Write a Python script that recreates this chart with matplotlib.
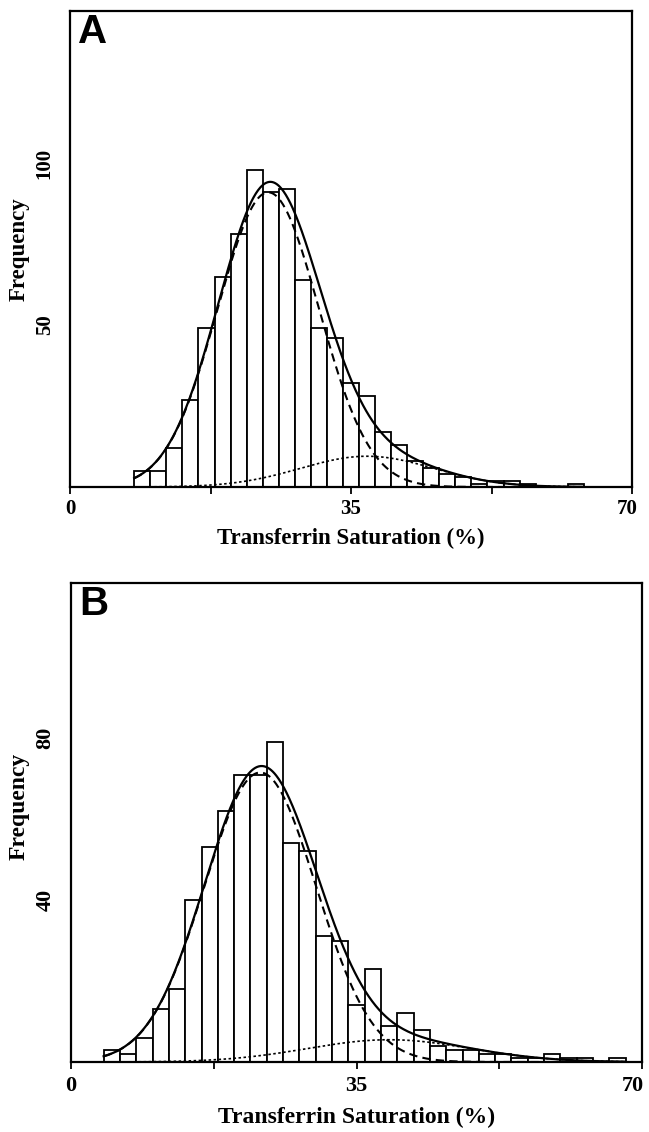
import numpy as np
import matplotlib
matplotlib.use("Agg")
import matplotlib.pyplot as plt
from matplotlib.transforms import ScaledTranslation

# ---------------- data ----------------
# Panel A: histogram (bins of width 2, left edges) and fitted mixture components
a_bin_left = [8, 10, 12, 14, 16, 18, 20, 22, 24, 26, 28, 30, 32, 34, 36, 38, 40,
              42, 44, 46, 48, 50, 52, 54, 56, 58, 60, 62]
a_counts = [5, 5, 12, 27, 49, 65, 78, 98, 91, 92, 64, 49, 46, 32, 28, 17, 13,
            8, 6, 4, 3, 1, 2, 2, 1, 0, 0, 1]
# component parameters: (amplitude, mean, sd)
a_comp1 = (91.0, 24.7, 6.3)
a_comp2 = (9.5, 37.0, 8.3)
a_curve_range = (8, 64)

# Panel B
b_bin_left = [4, 6, 8, 10, 12, 14, 16, 18, 20, 22, 24, 26, 28, 30, 32, 34, 36,
              38, 40, 42, 44, 46, 48, 50, 52, 54, 56, 58, 60, 62, 64, 66]
b_counts = [3, 2, 6, 13, 18, 40, 53, 62, 71, 71, 79, 54, 52, 31, 30, 14, 23,
            9, 12, 8, 4, 3, 3, 2, 2, 1, 1, 2, 1, 1, 0, 1]
b_comp1 = (71.5, 23.2, 6.85)
b_comp2 = (5.5, 39.0, 10.0)
b_curve_range = (4, 68)

x_major = [0, 35, 70]
x_minor = [17.5, 52.5]
a_yticks = [50, 100]
b_yticks = [40, 80]

# ---------------- figure ----------------
W, H = 649, 1132
fig = plt.figure(figsize=(W / 100, H / 100), dpi=100)

serif = ["Liberation Serif", "DejaVu Serif"]
sans = ["Liberation Sans", "DejaVu Sans"]


def gauss(x, p):
    amp, mu, sd = p
    return amp * np.exp(-0.5 * ((x - mu) / sd) ** 2)


def panel(rect, left, counts, c1, c2, crange, yticks, ylim, letter, tfs, lfs,
          ylab_x, ylab_y, xpad, xlabpad, last_shift):
    ax = fig.add_axes(rect)
    ax.bar(left, counts, width=2, align="edge", facecolor="white",
           edgecolor="black", linewidth=1.3, zorder=2)
    xs = np.linspace(crange[0], crange[1], 600)
    y1 = gauss(xs, c1)
    y2 = gauss(xs, c2)
    ax.plot(xs, y1 + y2, color="black", lw=1.6, zorder=4)
    ax.plot(xs, y1, color="black", lw=1.5, ls=(0, (4, 2.5)), zorder=4)
    ax.plot(xs, y2, color="black", lw=1.2, ls=(0, (1.5, 1.5)), zorder=4)
    ax.set_xlim(0, 70)
    ax.set_ylim(0, ylim)
    for s in ax.spines.values():
        s.set_linewidth(1.6)
    ax.set_xticks(x_major)
    ax.set_xticks(x_minor, minor=True)
    ax.tick_params(axis="x", which="both", direction="out", length=5, width=1.3,
                   pad=xpad)
    labels = ax.set_xticklabels([str(v) for v in x_major], fontfamily=serif,
                                fontweight="bold", fontsize=tfs)
    lab = labels[-1]
    lab.set_transform(lab.get_transform() +
                      ScaledTranslation(last_shift / 100, 0,
                                        fig.dpi_scale_trans))
    ax.set_yticks(yticks)
    ax.set_yticklabels([str(v) for v in yticks], fontfamily=serif,
                       fontweight="bold", fontsize=tfs, rotation=90,
                       va="center")
    ax.tick_params(axis="y", length=0, pad=11)
    ax.set_xlabel("Transferrin Saturation (%)", fontfamily=serif,
                  fontweight="bold", fontsize=lfs, labelpad=xlabpad)
    ax.set_ylabel("Frequency", fontfamily=serif, fontweight="bold",
                  fontsize=lfs)
    ax.yaxis.set_label_coords(ylab_x, ylab_y)
    ax.text(0.015, 0.995, letter, transform=ax.transAxes, ha="left", va="top",
            fontfamily=sans, fontweight="bold", fontsize=29)
    return ax


# panel A: left 70, right 632, top 11, bottom 487 (pixels)
panel([70 / W, 1 - 487 / H, (632 - 70) / W, (487 - 11) / H],
      a_bin_left, a_counts, a_comp1, a_comp2, a_curve_range, a_yticks, 147,
      "A", 15, 16.5, -0.071, 0.5, 4, 6, -5)

# panel B: left 71, right 642, top 583, bottom 1062
panel([71 / W, 1 - 1062 / H, (642 - 71) / W, (1062 - 583) / H],
      b_bin_left, b_counts, b_comp1, b_comp2, b_curve_range, b_yticks, 118.3,
      "B", 16, 17, -0.072, 0.533, 5, 8, -9)

fig.savefig("out.png", dpi=100)
